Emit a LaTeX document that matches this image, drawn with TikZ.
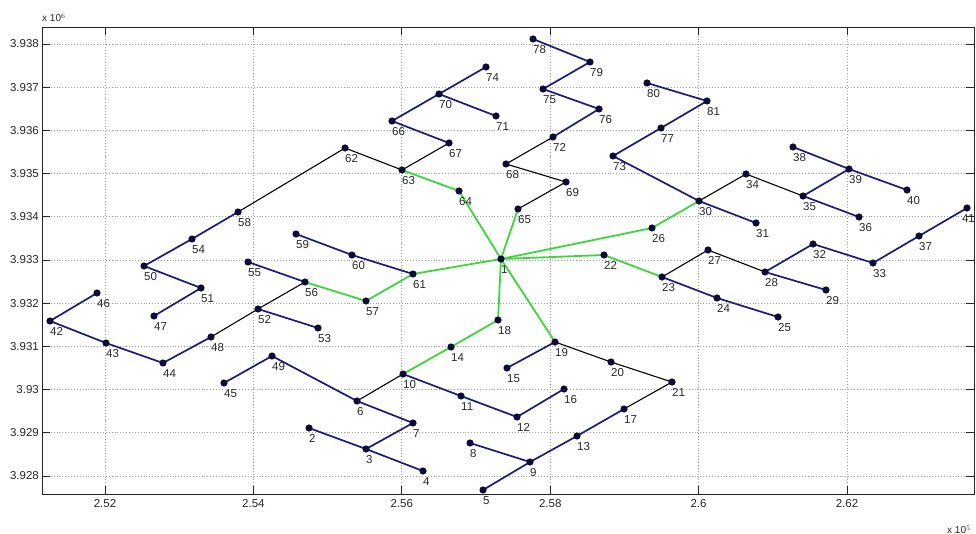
\documentclass[tikz,border=0pt]{standalone}
\usepackage{fontspec}
\setmainfont{Liberation Sans}
\definecolor{linblue}{RGB}{28,28,120}
\definecolor{lingreen}{RGB}{60,215,60}
\definecolor{dotcol}{RGB}{12,12,55}
\definecolor{txtcol}{RGB}{40,40,40}
\begin{document}
\begin{tikzpicture}[x=1pt,y=-1pt,
  gridline/.style={dotted,line width=0.9pt,gray!75},
  axisline/.style={line width=0.9pt,black!85},
  bl/.style={linblue,line width=1.7pt},
  gr/.style={lingreen,line width=1.8pt},
  bk/.style={black,line width=1.1pt},
  lbl/.style={anchor=north west,inner sep=0pt,text=txtcol,font=\fontsize{11.5}{13}\selectfont},
  tlbl/.style={inner sep=0pt,text=txtcol,font=\fontsize{11.5}{13}\selectfont}]
\useasboundingbox[fill=white] (0,0) rectangle (976,534);
% grid
\foreach \gx in {105,253.4,401.8,550.2,698.6,847}
  \draw[gridline] (\gx,27) -- (\gx,494);
\foreach \gy in {44,87.2,130.4,173.6,216.8,260,303.2,346.4,389.6,432.8,476}
  \draw[gridline] (42,\gy) -- (974,\gy);
% ticks
\foreach \gx in {105,253.4,401.8,550.2,698.6,847}{
  \draw[axisline] (\gx,494) -- (\gx,486);
  \draw[axisline] (\gx,27) -- (\gx,35);}
\foreach \gy in {44,87.2,130.4,173.6,216.8,260,303.2,346.4,389.6,432.8,476}{
  \draw[axisline] (42,\gy) -- (50,\gy);
  \draw[axisline] (974,\gy) -- (966,\gy);}
\draw[axisline] (42,27) rectangle (974,494);
% tick labels
\foreach \gx/\t in {105/2.52,253.4/2.54,401.8/2.56,550.2/2.58,698.6/2.6,847/2.62}
  \node[tlbl,anchor=center] (xl\t) at (\gx,504) {\t};
\foreach \gy/\t in {44/3.938,87.2/3.937,130.4/3.936,173.6/3.935,216.8/3.934,260/3.933,303.2/3.932,346.4/3.931,389.6/3.93,432.8/3.929,476/3.928}
  \node[tlbl,anchor=east] (yl\t) at (39,\gy) {\t};
\node[tlbl,anchor=south west,font=\fontsize{10}{12}\selectfont] (ye) at (42,22) {x 10$^{6}$};
\node[tlbl,anchor=south west,font=\fontsize{10}{12}\selectfont] (xe) at (947,534) {x 10$^{5}$};
% positions
\foreach \i/\px/\py in {1/501/259,2/309/428,3/366/449,4/423/471,5/483/490,6/357/401,7/413/423,8/470/443,9/530/462,10/403/374,
  11/461/396,12/517/417,13/577/436,14/451/347,15/507/368,16/564/389,17/624/409,18/498/320,19/555/342,20/611/362,
  21/672/382,22/604/255,23/662/277,24/717/298,25/778/317,26/652/228,27/708/250,28/765/272,29/826/290,30/699/201,
  31/756/223,32/813/244,33/873/263,34/746/174,35/803/196,36/859/217,37/919/236,38/793/147,39/849/169,40/907/190,
  41/967/208,42/50/321,43/106/343,44/163/363,45/224/383,46/97/293,47/154/316,48/211/337,49/272/356,50/144/266,
  51/201/288,52/258/309,53/318/328,54/192/239,55/248/262,56/305/282,57/366/301,58/238/212,59/296/234,60/352/255,
  61/413/274,62/345/148,63/402/170,64/459/191,65/518/209,66/392/121,67/449/143,68/506/164,69/566/182,70/439/94,
  71/496/116,72/553/137,73/613/156,74/486/67,75/543/89,76/599/109,77/661/128,78/533/39,79/590/62,80/647/83,81/707/101}
  \coordinate (n\i) at (\px,\py);
% black connectors
\foreach \a/\b in {63/62,62/58,63/67,65/69,69/68,68/72,30/34,34/35,23/27,27/28,19/20,20/21,21/17,10/6,56/52,52/48}
  \draw[bk] (n\a) -- (n\b);
% blue connectors
\foreach \a/\b in {58/54,54/50,50/51,51/47,42/46,42/43,43/44,44/48,55/56,52/53,59/60,60/61,49/45,49/6,6/7,7/3,3/2,3/4,
  10/11,11/12,12/16,19/15,8/9,9/5,9/13,13/17,23/24,24/25,28/29,28/32,32/33,33/37,37/41,30/31,73/30,73/77,77/81,81/80,
  35/39,39/38,39/40,35/36,66/67,66/70,70/74,70/71,72/76,76/75,75/79,79/78}
  \draw[bl] (n\a) -- (n\b);
% green connectors
\foreach \a/\b in {1/64,64/63,1/65,1/61,61/57,57/56,1/26,26/30,1/22,22/23,1/18,18/14,14/10,1/19}
  \draw[gr] (n\a) -- (n\b);
% markers and labels
\foreach \i in {1,...,81}
  \fill[dotcol] (n\i) circle[radius=3.6pt];
\foreach \i in {1,...,40,42,43,...,81}
  \path (n\i) ++(0,6.5) node[lbl] (l\i) {\i};
\path (n41) ++(8,6.5) node[lbl,anchor=north east] (l41) {41};
\end{tikzpicture}
\end{document}
